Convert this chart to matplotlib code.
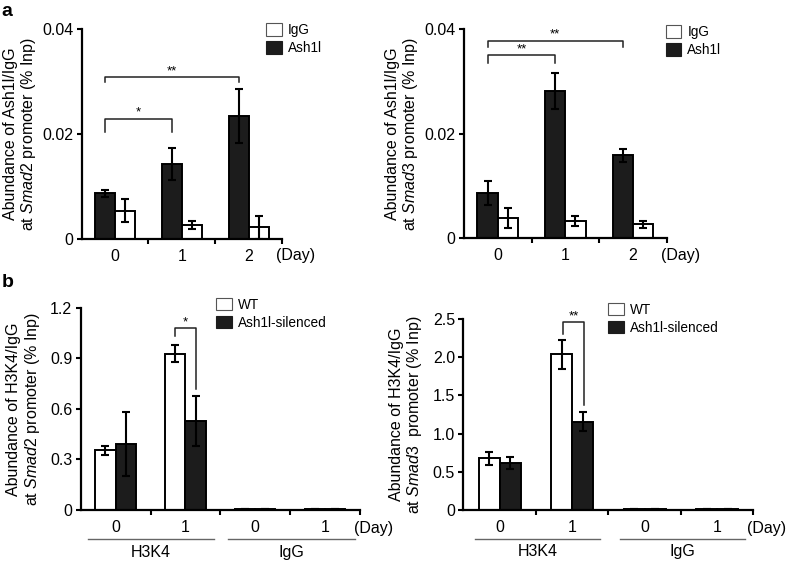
import matplotlib
matplotlib.use("Agg")
import matplotlib.pyplot as plt
import matplotlib.transforms as mtransforms
from matplotlib.patches import Patch

plt.rcParams['font.family'] = ['Liberation Sans', 'DejaVu Sans']
plt.rcParams['mathtext.fontset'] = 'custom'
plt.rcParams['mathtext.rm'] = 'Liberation Sans'
plt.rcParams['mathtext.it'] = 'Liberation Sans:italic'

BLACK = '#1c1c1c'

# panel a: Ash1l / IgG ChIP at day 0, 1, 2
days_a = ['0', '1', '2']
smad2_ash1l = [0.0087, 0.0143, 0.0235]
smad2_ash1l_err = [0.0006, 0.0030, 0.0052]
smad2_igg = [0.0054, 0.0027, 0.0022]
smad2_igg_err = [0.0022, 0.0008, 0.0022]
smad3_ash1l = [0.0086, 0.0282, 0.0159]
smad3_ash1l_err = [0.0023, 0.0034, 0.0012]
smad3_igg = [0.0039, 0.0033, 0.0027]
smad3_igg_err = [0.0019, 0.0010, 0.0007]

# panel b: H3K4 / IgG ChIP, WT vs Ash1l-silenced
days_b = ['0', '1', '0', '1']
groups_b = ['H3K4', 'IgG']
smad2_wt = [0.355, 0.927, 0.005, 0.005]
smad2_wt_err = [0.027, 0.052, 0, 0]
smad2_kd = [0.39, 0.527, 0.005, 0.005]
smad2_kd_err = [0.19, 0.15, 0, 0]
smad3_wt = [0.677, 2.04, 0.01, 0.01]
smad3_wt_err = [0.085, 0.19, 0, 0]
smad3_kd = [0.62, 1.156, 0.01, 0.01]
smad3_kd_err = [0.08, 0.125, 0, 0]


def style_axis(ax, n, yticks, ylabels, ylabel, daylabel_pos, labelpad):
    for s in ['top', 'right']:
        ax.spines[s].set_visible(False)
    for s in ['left', 'bottom']:
        ax.spines[s].set_linewidth(1.6)
    ax.set_xlim(0, n)
    ax.set_ylim(yticks[0], yticks[-1])
    ax.set_yticks(yticks)
    ax.set_yticklabels(ylabels)
    ax.tick_params(axis='y', length=3.5, width=1.5, pad=2.5, labelsize=11.5)
    ax.set_xticks([i + 0.5 for i in range(n)], minor=False)
    ax.set_xticks(range(1, n + 1), minor=True)
    ax.tick_params(axis='x', which='major', length=0, pad=7, labelsize=11.5)
    ax.tick_params(axis='x', which='minor', length=3.5, width=1.5)
    ax.set_ylabel(ylabel, fontsize=11.5, labelpad=labelpad, linespacing=1.1)
    ax.text(daylabel_pos[0], daylabel_pos[1], '(Day)', transform=ax.transAxes,
            ha='left', va='center', fontsize=11.5)


def bracket(ax, x1, x2, top, leg1, leg2, stars):
    ax.plot([x1, x1, x2, x2], [leg1, top, top, leg2], color='#222222', lw=1.1)
    ax.text((x1 + x2) / 2, top, stars, ha='center', va='bottom', fontsize=9.5)


def draw_bars(ax, left, left_err, right, right_err, left_color, right_color,
              width, offset):
    x = [i + 0.5 for i in range(len(left))]
    ekw = dict(ecolor='black', elinewidth=1.5, capsize=3, capthick=1.5)
    ax.bar([v - offset for v in x], left, width, color=left_color,
           edgecolor='black', linewidth=1.4, zorder=2)
    ax.bar([v + offset for v in x], right, width, color=right_color,
           edgecolor='black', linewidth=1.4, zorder=2)
    ax.errorbar([v - offset for v in x], left, yerr=left_err, fmt='none',
                zorder=3, **ekw)
    ax.errorbar([v + offset for v in x], right, yerr=right_err, fmt='none',
                zorder=3, **ekw)


def add_legend(ax, labels, anchor):
    handles = [Patch(facecolor='white', edgecolor='#555555', linewidth=0.8),
               Patch(facecolor=BLACK, edgecolor=BLACK, linewidth=0.8)]
    ax.legend(handles, labels, loc='upper left', bbox_to_anchor=anchor,
              frameon=False, fontsize=9.8, handlelength=1.15,
              handleheight=1.05, handletextpad=0.45, labelspacing=0.3,
              borderpad=0, borderaxespad=0)


def group_lines(ax, spans, line_y, text_y):
    trans = mtransforms.blended_transform_factory(ax.transData, ax.transAxes)
    for (x1, x2), name in zip(spans, groups_b):
        ax.plot([x1, x2], [line_y, line_y], color='#666666', lw=1.0,
                transform=trans, clip_on=False)
        ax.text((x1 + x2) / 2, text_y, name, transform=trans, ha='center',
                va='center', fontsize=11.5)


fig = plt.figure(figsize=(7.88, 5.61), dpi=100)

# a, Smad2
ax1 = fig.add_axes([0.1037, 0.574, 0.2542, 0.3738])
draw_bars(ax1, smad2_ash1l, smad2_ash1l_err, smad2_igg, smad2_igg_err,
          BLACK, 'white', 0.3, 0.15)
style_axis(ax1, 3, [0, 0.02, 0.04], ['0', '0.02', '0.04'],
           'Abundance of Ash1l/IgG\nat $\\mathit{Smad2}$ promoter (% Inp)',
           (0.969, -0.081), 3)
ax1.set_xticklabels(days_a)
bracket(ax1, 0.35, 2.35, 0.0309, 0.0299, 0.0299, '**')
bracket(ax1, 0.35, 1.35, 0.0229, 0.0205, 0.0205, '*')
add_legend(ax1, ['IgG', 'Ash1l'], (0.92, 1.03))

# a, Smad3
ax2 = fig.add_axes([0.5888, 0.5752, 0.2572, 0.3725])
draw_bars(ax2, smad3_ash1l, smad3_ash1l_err, smad3_igg, smad3_igg_err,
          BLACK, 'white', 0.3, 0.15)
style_axis(ax2, 3, [0, 0.02, 0.04], ['0', '0.02', '0.04'],
           'Abundance of Ash1l/IgG\nat $\\mathit{Smad3}$ promoter (% Inp)',
           (0.97, -0.081), 3)
ax2.set_xticklabels(days_a)
bracket(ax2, 0.35, 2.35, 0.0378, 0.0367, 0.0367, '**')
bracket(ax2, 0.35, 1.35, 0.0351, 0.0336, 0.0336, '**')
add_legend(ax2, ['IgG', 'Ash1l'], (0.995, 1.02))

# b, Smad2
ax3 = fig.add_axes([0.1024, 0.0909, 0.3544, 0.3606])
draw_bars(ax3, smad2_wt, smad2_wt_err, smad2_kd, smad2_kd_err,
          'white', BLACK, 0.29, 0.145)
style_axis(ax3, 4, [0, 0.3, 0.6, 0.9, 1.2], ['0', '0.3', '0.6', '0.9', '1.2'],
           'Abundance of H3K4/IgG\nat $\\mathit{Smad2}$ promoter (% Inp)',
           (0.978, -0.089), 6)
ax3.set_xticklabels(days_b)
bracket(ax3, 1.355, 1.645, 1.08, 1.03, 0.716, '*')
add_legend(ax3, ['WT', 'Ash1l-silenced'], (0.484, 1.05))
group_lines(ax3, [(0.105, 1.91), (2.11, 3.93)], -0.143, -0.208)

# b, Smad3
ax4 = fig.add_axes([0.588, 0.0909, 0.368, 0.3405])
draw_bars(ax4, smad3_wt, smad3_wt_err, smad3_kd, smad3_kd_err,
          'white', BLACK, 0.29, 0.145)
style_axis(ax4, 4, [0, 0.5, 1.0, 1.5, 2.0, 2.5],
           ['0', '0.5', '1.0', '1.5', '2.0', '2.5'],
           'Abundance of H3K4/IgG\nat $\\mathit{Smad3}$  promoter (% Inp)',
           (0.978, -0.096), 6)
ax4.set_xticklabels(days_b)
bracket(ax4, 1.371, 1.665, 2.46, 2.31, 1.38, '**')
add_legend(ax4, ['WT', 'Ash1l-silenced'], (0.5, 1.085))
group_lines(ax4, [(0.16, 1.886), (2.16, 3.88)], -0.153, -0.218)

fig.text(0.002, 0.995, 'a', fontsize=14, fontweight='bold', va='top')
fig.text(0.002, 0.512, 'b', fontsize=14, fontweight='bold', va='top')

fig.savefig('out.png', dpi=100)
